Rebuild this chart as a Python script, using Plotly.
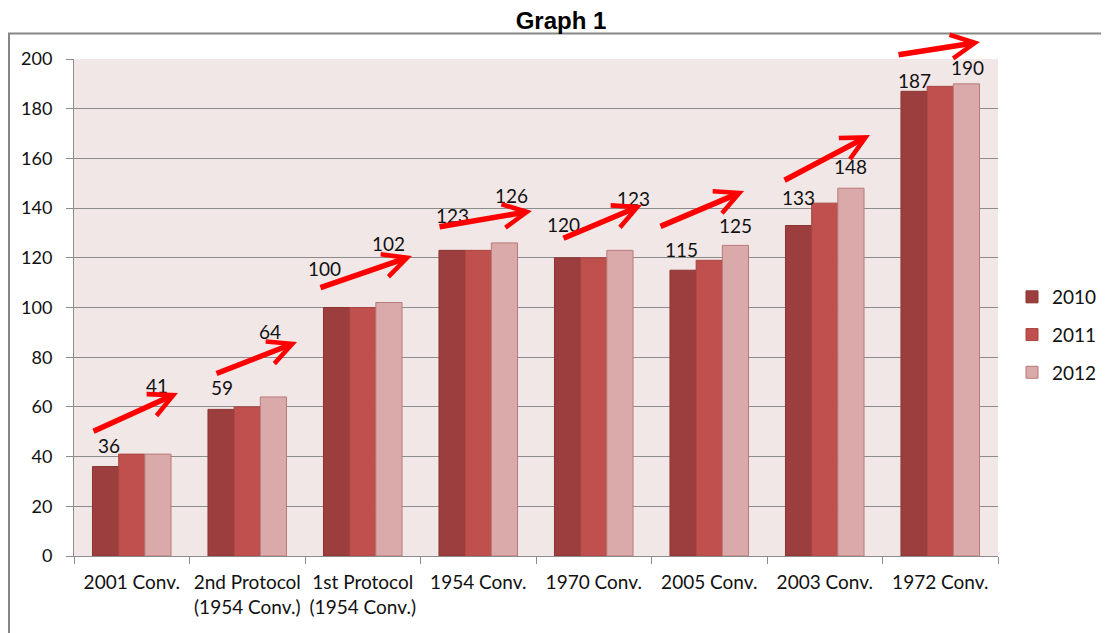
import plotly.graph_objects as go

categories = ["2001 Conv.", "2nd Protocol<br>(1954 Conv.)", "1st Protocol<br>(1954 Conv.)",
              "1954 Conv.", "1970 Conv.", "2005 Conv.", "2003 Conv.", "1972 Conv."]
years = ["2010", "2011", "2012"]
values_2010 = [36, 59, 100, 123, 120, 115, 133, 187]
values_2011 = [41, 60, 100, 123, 120, 119, 142, 189]
values_2012 = [41, 64, 102, 126, 123, 125, 148, 190]
y_ticks = [0, 20, 40, 60, 80, 100, 120, 140, 160, 180, 200]
Y_MAX = 200

# label placement (manually moved labels in the original): x offset in category units, lift in px
lbl2010_dx = [-0.197, -0.219, -0.335, -0.219, -0.258, -0.236, -0.223, -0.219]
lbl2010_lift = [21.5, 22, 39.5, 35, 33, 21, 28.5, 11]
lbl2012_dx = [0.219, 0.197, 0.227, 0.284, 0.340, 0.223, 0.219, 0.232]
lbl2012_lift = [69, 65, 59.5, 47, 52, 19.5, 22, 16]

# trend arrows: (tail dx, tail y, tip dx, tip y) relative to group index, y in axis units
arrow_tail_dx = [-0.344, -0.279, -0.379, -0.348, -0.275, -0.435, -0.361, -0.374]
arrow_tail_y = [49.9, 73.2, 107.8, 132.4, 127.6, 132.4, 150.9, 201.6]
arrow_tip_dx = [0.400, 0.431, 0.426, 0.465, 0.418, 0.301, 0.392, 0.344]
arrow_tip_y = [65.6, 86.1, 120.7, 138.8, 141.2, 146.9, 169.4, 206.8]

colors = ["#9B3E3D", "#C0504D", "#DAA9A9"]
edge_colors = ["#8A3533", "#A84542", "#B87A79"]
series = [values_2010, values_2011, values_2012]

FONT = "Lato"
W, H = 1101, 625
PL, PR, PT, PB = 66, 990, 51, 548  # plot area in figure pixels
PW, PH = PR - PL, PB - PT

fig = go.Figure()
for i, (yr, vals) in enumerate(zip(years, series)):
    fig.add_trace(go.Bar(
        x=categories, y=vals, name=yr, legendgroup=yr,
        marker=dict(color=colors[i], line=dict(color=edge_colors[i], width=1)),
    ))

annotations = []
for i in range(len(categories)):
    annotations.append(dict(x=i + lbl2010_dx[i], y=values_2010[i], xref="x", yref="y",
                            text=str(values_2010[i]), showarrow=False, yshift=lbl2010_lift[i],
                            font=dict(family=FONT, size=19, color="#111")))
    annotations.append(dict(x=i + lbl2012_dx[i], y=values_2012[i], xref="x", yref="y",
                            text=str(values_2012[i]), showarrow=False, yshift=lbl2012_lift[i],
                            font=dict(family=FONT, size=19, color="#111")))
    annotations.append(dict(x=i + arrow_tip_dx[i], y=arrow_tip_y[i] / Y_MAX,
                            xref="x", yref="y domain",
                            ax=i + arrow_tail_dx[i], ay=arrow_tail_y[i] / Y_MAX,
                            axref="x", ayref="y domain",
                            text="", showarrow=True, arrowhead=5, arrowsize=0.85,
                            arrowwidth=5.5, arrowcolor="#FF0000"))

fig.update_layout(
    width=W, height=H,
    paper_bgcolor="white", plot_bgcolor="#F2E7E7",
    margin=dict(l=PL, r=W - PR, t=PT, b=H - PB, autoexpand=False),
    barmode="group", bargap=0.32, bargroupgap=0,
    title=dict(text="<b>Graph 1</b>", x=553 / W, xref="container", xanchor="center",
               y=1 - 13 / H, yref="container", yanchor="middle",
               font=dict(family="Liberation Sans, Arial", size=24, color="black")),
    legend=dict(x=1004 / W, xref="container", xanchor="left",
                y=1 - 327 / H, yref="container", yanchor="middle",
                font=dict(family=FONT, size=19, color="#111"), tracegroupgap=10,
                bgcolor="rgba(0,0,0,0)"),
    annotations=annotations,
    xaxis=dict(range=[-0.5, 7.5], showgrid=False, showline=True, linecolor="#8C8C8C", linewidth=1,
               ticks="outside", tickson="boundaries", ticklen=7, tickcolor="#8C8C8C", tickangle=0,
               tickfont=dict(family=FONT, size=19, color="#111"), ticklabelstandoff=9),
    yaxis=dict(range=[0, Y_MAX], tickvals=y_ticks, showgrid=True, gridcolor="#8C8C8C", gridwidth=1,
               showline=True, linecolor="#8C8C8C", linewidth=1, ticks="outside", ticklen=7,
               tickcolor="#8C8C8C", zeroline=False,
               tickfont=dict(family=FONT, size=18, color="#111"), ticklabelstandoff=10),
    shapes=[dict(type="rect", xref="paper", yref="paper",
                 x0=(1 - PL) / PW, x1=(W + 20 - PL) / PW,
                 y0=(PB - (H + 20)) / PH, y1=(PB - 25.5) / PH,
                 line=dict(color="#868686", width=2), fillcolor="rgba(0,0,0,0)", layer="below")],
)

fig.write_html("out.html")
